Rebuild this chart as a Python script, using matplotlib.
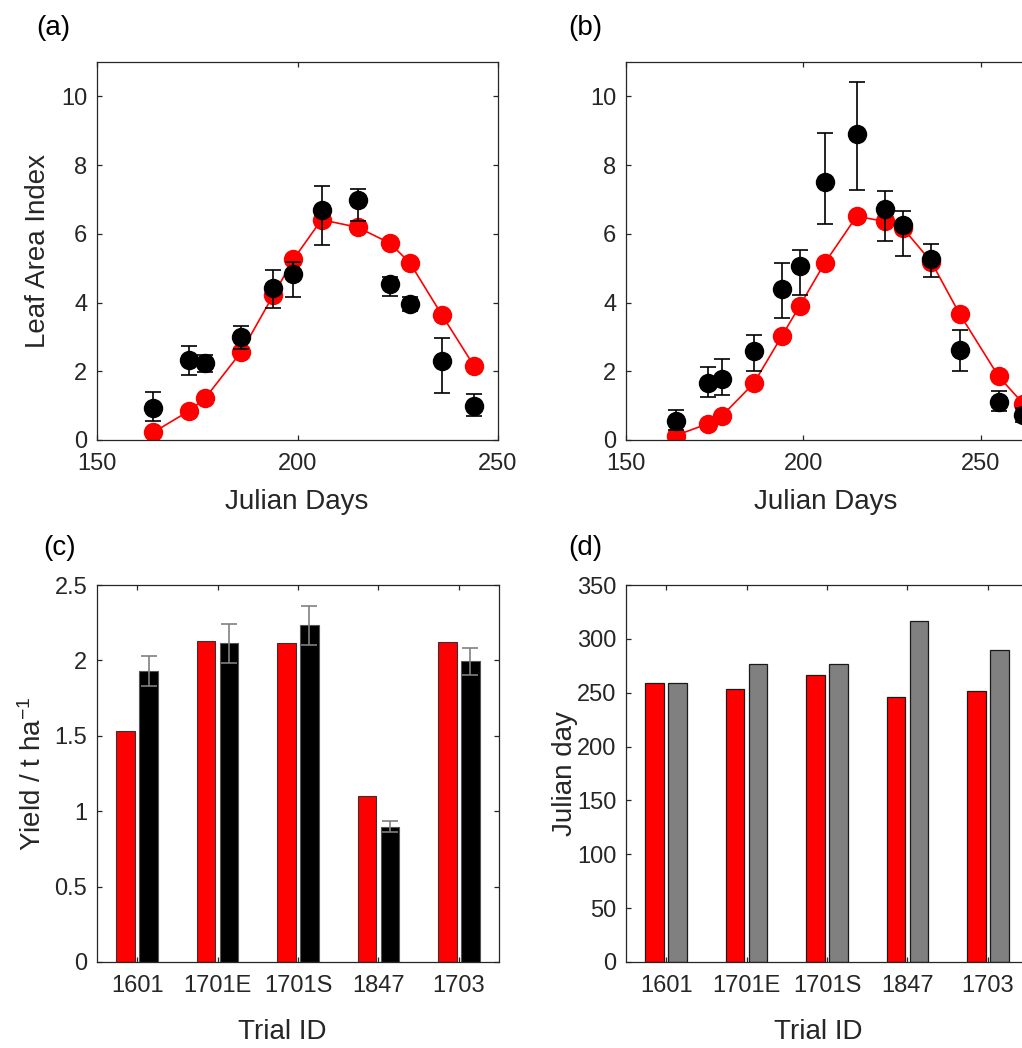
import numpy as np
import matplotlib.pyplot as plt

plt.rcParams['font.family'] = ['Liberation Sans', 'DejaVu Sans']
plt.rcParams['mathtext.default'] = 'regular'

# --- panel (a) / (b) data: leaf area index over julian days
days = [164, 173, 177, 186, 194, 199, 206, 215, 223, 228, 236, 244, 255, 262]

sim_a = [0.22, 0.85, 1.22, 2.57, 4.22, 5.26, 6.41, 6.19, 5.73, 5.16, 3.64, 2.16]
obs_a = [0.94, 2.33, 2.23, 2.99, 4.42, 4.84, 6.70, 6.99, 4.53, 3.95, 2.31, 0.99]
obs_a_lo = [0.38, 0.43, 0.25, 0.33, 0.58, 0.67, 1.03, 0.61, 0.33, 0.21, 0.94, 0.29]
obs_a_hi = [0.45, 0.41, 0.25, 0.33, 0.52, 0.35, 0.68, 0.32, 0.21, 0.21, 0.67, 0.36]

sim_b = [0.13, 0.47, 0.70, 1.65, 3.04, 3.91, 5.15, 6.51, 6.36, 6.17, 5.19, 3.67, 1.85, 1.05]
obs_b = [0.56, 1.67, 1.77, 2.59, 4.39, 5.07, 7.50, 8.91, 6.72, 6.26, 5.27, 2.62, 1.12, 0.72]
obs_b_lo = [0.26, 0.43, 0.46, 0.58, 0.85, 0.85, 1.22, 1.63, 0.94, 0.92, 0.54, 0.60, 0.28, 0.20]
obs_b_hi = [0.31, 0.45, 0.58, 0.46, 0.75, 0.46, 1.43, 1.52, 0.54, 0.41, 0.43, 0.58, 0.31, 0.20]

# --- panel (c) / (d) data
trials = ['1601', '1701E', '1701S', '1847', '1703']
yield_sim = [1.534, 2.13, 2.113, 1.099, 2.12]
yield_obs = [1.93, 2.113, 2.234, 0.898, 1.993]
yield_err = [0.10, 0.13, 0.13, 0.035, 0.09]

harvest_sim = [259, 253, 266, 246, 252]
harvest_obs = [259, 277, 277, 317, 290]

TXT = '#262626'
FS = 17      # tick labels
LFS = 20     # axis labels

W, H = 1022, 1048

def box(l, b, w, h):
    # pixel box (left, bottom edge, width, height) -> figure fraction
    return [l / W, (H - b) / H, w / W, h / H]

def style(ax):
    for s in ax.spines.values():
        s.set_color(TXT)
        s.set_linewidth(0.9)
    ax.tick_params(direction='in', length=3.5, width=0.9, top=True, right=True,
                   colors=TXT, labelsize=FS)
    ax.tick_params(axis='x', pad=9)
    ax.tick_params(axis='y', pad=7)

fig = plt.figure(figsize=(W / 100, H / 100), dpi=100)
ax_a = fig.add_axes(box(97, 440, 401, 378))
ax_b = fig.add_axes(box(626, 440, 401, 378))
ax_c = fig.add_axes(box(97, 962, 402, 377))
ax_d = fig.add_axes(box(626, 962, 402, 377))

def lai_panel(ax, sim, obs, lo, hi, xmax):
    n = len(sim)
    ax.plot(days[:n], sim, '-o', color='red', lw=1.2, ms=14, mec='none', zorder=2)
    ax.errorbar(days[:n], obs, yerr=[lo, hi], fmt='o', color='k', ms=14, mec='none',
                ecolor='k', elinewidth=1.2, capsize=6, capthick=1.2, zorder=3)
    ax.set_xlim(150, xmax)
    ax.set_ylim(0, 11)
    ax.set_xticks([150, 200, 250])
    ax.set_yticks([0, 2, 4, 6, 8, 10])
    style(ax)

lai_panel(ax_a, sim_a, obs_a, obs_a_lo, obs_a_hi, 250)
lai_panel(ax_b, sim_b, obs_b, obs_b_lo, obs_b_hi, 263)

x = np.arange(1, len(trials) + 1)
bw = 0.23
off = 0.143

ax_c.bar(x - off, yield_sim, bw, color='red', edgecolor='#333333', lw=0.8)
ax_c.bar(x + off, yield_obs, bw, color='black', edgecolor='#555555', lw=0.8)
ax_c.errorbar(x + off, yield_obs, yerr=yield_err, fmt='none', ecolor='#808080',
              elinewidth=1.2, capsize=6, capthick=1.2)
ax_c.set_ylim(0, 2.5)
ax_c.set_yticks([0, 0.5, 1, 1.5, 2, 2.5])
ax_c.set_yticklabels(['0', '0.5', '1', '1.5', '2', '2.5'])

ax_d.bar(x - off, harvest_sim, bw, color='red', edgecolor='#1a1a1a', lw=0.9)
ax_d.bar(x + off, harvest_obs, bw, color='#808080', edgecolor='#1a1a1a', lw=0.9)
ax_d.set_ylim(0, 350)
ax_d.set_yticks(np.arange(0, 351, 50))

for ax in (ax_c, ax_d):
    ax.set_xlim(0.5, 5.5)
    ax.set_xticks(x, trials)
    style(ax)

# axis labels placed at their pixel centres
def xlabel_at(ax, text, cx, cy):
    ax.set_xlabel(text, fontsize=LFS, color=TXT)
    ax.xaxis.set_label_coords(cx / W, 1 - cy / H, transform=fig.transFigure)
    ax.xaxis.label.set_va('center')

def ylabel_at(ax, text, cx, cy):
    ax.set_ylabel(text, fontsize=LFS, color=TXT)
    ax.yaxis.set_label_coords(cx / W, 1 - cy / H, transform=fig.transFigure)
    ax.yaxis.label.set_va('center')

xlabel_at(ax_a, 'Julian Days', 297, 502)
xlabel_at(ax_b, 'Julian Days', 826, 502)
xlabel_at(ax_c, 'Trial ID', 282, 1032)
xlabel_at(ax_d, 'Trial ID', 818, 1032)
ylabel_at(ax_a, 'Leaf Area Index', 38, 251)
ylabel_at(ax_c, 'Yield / t ha$^{-1}$', 33, 774)
ylabel_at(ax_d, 'Julian day', 565, 774)

for lab, px, py in [('(a)', 53, 28), ('(b)', 585, 28), ('(c)', 60, 548), ('(d)', 585, 548)]:
    fig.text(px / W, 1 - py / H, lab, ha='center', va='center', fontsize=LFS, color='k')

fig.savefig('out.png', dpi=100)
